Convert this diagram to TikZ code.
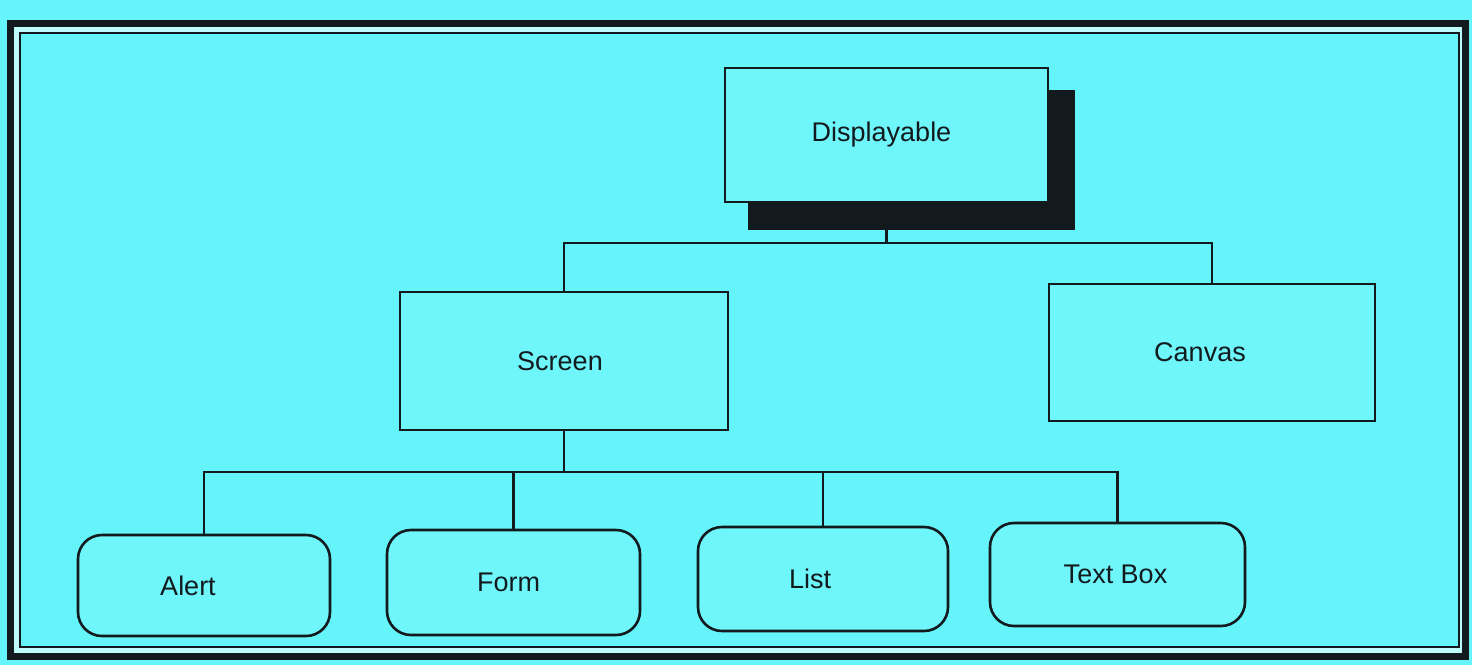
\documentclass[tikz,border=0pt]{standalone}
\usepackage{fontspec}
\setmainfont{Liberation Sans}
\definecolor{bgcyan}{RGB}{100,244,250}
\definecolor{boxcyan}{RGB}{110,246,250}
\definecolor{gapcyan}{RGB}{190,252,252}
\definecolor{ink}{RGB}{18,26,30}
% shift a label left by #1 inside its box
\newcommand{\lblleft}[2]{#2\hspace*{#1}\hspace*{#1}}
\tikzset{
  box/.style={draw=ink, line width=2.6pt, fill=boxcyan, font=\fontsize{27}{30}\selectfont, text=ink, inner sep=0pt},
  rbox/.style={box, rounded corners=24pt},
  conn/.style={draw=ink, line width=2.4pt}
}
\begin{document}
\begin{tikzpicture}[x=1pt,y=-1pt]
\useasboundingbox (0,0) rectangle (1472,665);
\fill[bgcyan] (0,0) rectangle (1472,665);
% frame
\draw[ink, line width=7pt, fill=gapcyan] (10.5,23.5) rectangle (1465.5,656);
\draw[ink, line width=2pt, fill=bgcyan] (20,33) rectangle (1459,647);
% shadow of Displayable
\fill[ink] (748,90) rectangle (1075,230);
% nodes
\node[box, minimum width=323pt, minimum height=134pt] (disp) at (886.5,135) {\lblleft{5pt}{Displayable}};
\node[box, minimum width=328pt, minimum height=138pt] (screen) at (564,361) {\lblleft{4pt}{Screen}};
\node[box, minimum width=326pt, minimum height=137pt] (canvas) at (1212,352.5) {\lblleft{12pt}{Canvas}};
\node[rbox, minimum width=252pt, minimum height=101pt] (alert) at (204,585.5) {\lblleft{16pt}{Alert}};
\node[rbox, minimum width=253pt, minimum height=105pt] (form) at (513.5,582.5) {\lblleft{5pt}{Form}};
\node[rbox, minimum width=250pt, minimum height=104pt] (list) at (823,579) {\lblleft{13pt}{List}};
\node[rbox, minimum width=255pt, minimum height=103pt] (textbox) at (1117.5,574.5) {\lblleft{2pt}{Text Box}};
% connectors
\coordinate (j1) at (886.5,243);
\coordinate (j2) at (564,472);
\draw[conn] (disp.south) -- (j1);
\draw[conn] (screen.north) |- (j1) -| (canvas.north);
\draw[conn] (screen.south) -- (j2);
\draw[conn] (alert.north) |- (j2) -| (textbox.north);
\draw[conn] (form.north) -- (form.north |- j2);
\draw[conn] (list.north) -- (list.north |- j2);
\end{tikzpicture}
\end{document}
